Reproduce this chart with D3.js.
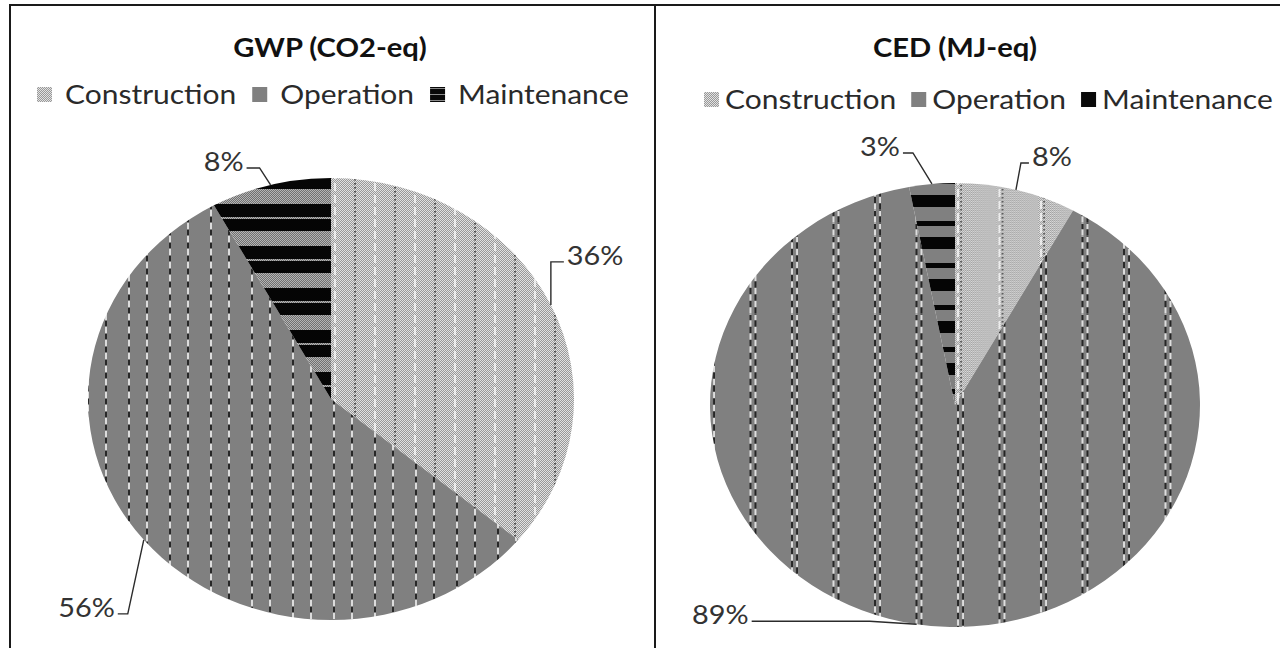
<!DOCTYPE html>
<html>
<head>
<meta charset="utf-8">
<script src="https://cdn.jsdelivr.net/npm/d3@7"></script>
<style>
  html, body { margin: 0; padding: 0; background: #fff; }
  svg { display: block; }
</style>
</head>
<body>
<svg id="chart" width="1280" height="648"></svg>
<script>
// Life-cycle shares (%) per phase
const categories = ["Construction", "Operation", "Maintenance"];
const gwpShares = [36, 56, 8];
const cedShares = [8, 89, 3];
const chartTitles = ["GWP (CO2-eq)", "CED (MJ-eq)"];

const FONT = "Lato, 'Open Sans', sans-serif";
const TEXT_STRETCH = 1.11;   // text is set slightly wide, like the stretched pies
const svg = d3.select("#chart");
const defs = svg.append("defs");

// text helper: places a horizontally stretched string at (x, y)
function wideText(x, y, str, opts) {
  const t = svg.append("text")
    .attr("transform", `translate(${x},${y}) scale(${opts.stretch || TEXT_STRETCH},1)`)
    .attr("text-anchor", opts.anchor || "start")
    .attr("font-family", FONT)
    .attr("font-size", opts.size)
    .attr("font-weight", opts.weight || 400)
    .attr("fill", opts.fill || "#222")
    .text(str);
  return t;
}

// ---------- textures ----------
function checkerPattern(id, light, dark) {
  const p = defs.append("pattern").attr("id", id)
    .attr("patternUnits", "userSpaceOnUse").attr("width", 2).attr("height", 2);
  p.append("rect").attr("width", 2).attr("height", 2).attr("fill", light);
  p.append("rect").attr("x", 1).attr("width", 1).attr("height", 1).attr("fill", dark);
  p.append("rect").attr("y", 1).attr("width", 1).attr("height", 1).attr("fill", dark);
}
checkerPattern("checker", "#e2e2e2", "#999999");
checkerPattern("checkerDark", "#b4b4b4", "#707070");

// pattern drawn in screen pixels even when the pie group is stretched
function tile(id, w, h, sx) {
  return defs.append("pattern").attr("id", id)
    .attr("patternUnits", "userSpaceOnUse")
    .attr("width", w).attr("height", h)
    .attr("patternTransform", `scale(${1 / sx},1)`);
}
function vline(p, x, h, color, dash, offset, width) {
  p.append("line").attr("x1", x).attr("x2", x).attr("y1", 0).attr("y2", h)
    .attr("stroke", color).attr("stroke-width", width || 1.6)
    .attr("stroke-dasharray", dash).attr("stroke-dashoffset", offset || 0);
}

function buildTextures(style, sx) {
  const h = 13;
  if (style === "L") {
    // operation: grey with black/white dashed verticals
    const op = tile("op-L", 41, h, sx);
    op.append("rect").attr("width", 41).attr("height", h).attr("fill", "#808080");
    [3, 21].forEach(x => {
      vline(op, x, h, "#111", "5 8", 0);
      vline(op, x, h, "#f4f4f4", "6 7", -6);
    });
    // construction: dithered light grey with dotted verticals
    const co = tile("co-L", 40, 12, sx);
    co.append("rect").attr("width", 40).attr("height", 12).attr("fill", "url(#checker)");
    vline(co, 4, 12, "#ffffff", "8 4", 0, 1.4);
    vline(co, 24, 12, "#222", "1.5 2.5", 0, 1.4);
    // maintenance: black bands with dithered grey rows
    const mn = tile("mn-L", 40, 42, sx);
    mn.append("rect").attr("width", 40).attr("height", 42).attr("fill", "url(#checkerDark)");
    mn.append("rect").attr("y", 15).attr("width", 40).attr("height", 13).attr("fill", "#050505");
    mn.append("rect").attr("y", 30).attr("width", 40).attr("height", 12).attr("fill", "#050505");
  } else {
    const op = tile("op-R", 41.5, h, sx);
    op.append("rect").attr("width", 41.5).attr("height", h).attr("fill", "#808080");
    [[3, 0], [8, -6.5]].forEach(([x, off]) => {
      vline(op, x, h, "#111", "6 7", off);
      vline(op, x, h, "#f4f4f4", "6 7", off - 6.5);
    });
    const co = tile("co-R", 41.5, 12, sx);
    co.append("rect").attr("width", 41.5).attr("height", 12).attr("fill", "url(#checker)");
    vline(co, 3, 12, "#ffffff", "8 4", 0, 1.4);
    vline(co, 6, 12, "#222", "1.5 2.5", 0, 1.2);
    const mn = tile("mn-R", 41.5, 42, sx);
    mn.append("rect").attr("width", 41.5).attr("height", 42).attr("fill", "#808080");
    mn.append("rect").attr("y", 0).attr("width", 41.5).attr("height", 12).attr("fill", "#050505");
    mn.append("rect").attr("y", 26).attr("width", 41.5).attr("height", 5).attr("fill", "#050505");
  }
}

// small legend swatch texture for striped maintenance key
const keyStripe = defs.append("pattern").attr("id", "key-mn")
  .attr("patternUnits", "userSpaceOnUse").attr("width", 4).attr("height", 6);
keyStripe.append("rect").attr("width", 4).attr("height", 6).attr("fill", "#080808");
keyStripe.append("rect").attr("y", 4).attr("width", 4).attr("height", 1).attr("fill", "#8a8a8a");

// ---------- panels ----------
const panels = [
  {
    shares: gwpShares, title: chartTitles[0], style: "L",
    frame: [10, 5, 645, 700], cx: 331, cy: 399, rx: 243, ry: 221,
    titleX: 330, titleY: 57, legendX: 37, legendY: 95, keyGap: 28, itemGap: 16,
    keyFills: ["url(#checker)", "#808080", "url(#key-mn)"],
    leaders: [
      { elbow: [0, -43], run: 13 },
      { elbow: [-16, 74], run: -10 },
      { elbow: [-11, -17], run: -13 }
    ]
  },
  {
    shares: cedShares, title: chartTitles[1], style: "R",
    frame: [655, 5, 700, 700], cx: 955, cy: 405, rx: 245, ry: 222,
    titleX: 955, titleY: 57, legendX: 704, legendY: 100, keyGap: 21, itemGap: 15,
    keyFills: ["url(#checker)", "#808080", "#0a0a0a"],
    leaders: [
      { elbow: [5, -27], run: 8 },
      { elbow: [-47, -3], run: -118 },
      { elbow: [-19, -31], run: -10 }
    ]
  }
];

const pie = d3.pie().sort(null).value(d => d);

panels.forEach(P => {
  const sx = P.rx / P.ry;
  buildTextures(P.style, sx);
  const fills = [`url(#co-${P.style})`, `url(#op-${P.style})`, `url(#mn-${P.style})`];

  // frame
  svg.append("rect")
    .attr("x", P.frame[0]).attr("y", P.frame[1])
    .attr("width", P.frame[2]).attr("height", P.frame[3])
    .attr("fill", "none").attr("stroke", "#1a1a1a").attr("stroke-width", 2);

  // title
  wideText(P.titleX, P.titleY, P.title, { size: 27, weight: 700, anchor: "middle", fill: "#111", stretch: 1.08 });

  // legend
  let lx = P.legendX;
  categories.forEach((c, i) => {
    svg.append("rect")
      .attr("x", lx).attr("y", P.legendY - 8).attr("width", 15).attr("height", 15)
      .attr("fill", P.keyFills[i]);
    const t = wideText(lx + P.keyGap, P.legendY + 9, c, { size: 27, fill: "#2a2a2a" });
    lx += P.keyGap + t.node().getComputedTextLength() * TEXT_STRETCH + P.itemGap;
  });

  // pie
  const arcs = pie(P.shares);
  const arc = d3.arc().innerRadius(0).outerRadius(P.ry);
  const g = svg.append("g").attr("transform", `translate(${P.cx},${P.cy}) scale(${sx},1)`);
  g.selectAll("path").data(arcs).join("path")
    .attr("d", arc)
    .attr("fill", (d, i) => fills[i]);

  // value labels with leader lines
  arcs.forEach((a, i) => {
    const mid = (a.startAngle + a.endAngle) / 2;
    const ax = P.cx + P.rx * Math.sin(mid);
    const ay = P.cy - P.ry * Math.cos(mid);
    const L = P.leaders[i];
    const ex = ax + L.elbow[0], ey = ay + L.elbow[1];
    const hx = ex + L.run;
    svg.append("path")
      .attr("d", d3.line()([[ax, ay], [ex, ey], [hx, ey]]))
      .attr("fill", "none").attr("stroke", "#2b2b2b").attr("stroke-width", 1.4);
    const dir = Math.sign(L.run);
    wideText(hx + dir * 3, ey + 3, P.shares[i] + "%",
      { size: 26, anchor: dir > 0 ? "start" : "end", fill: "#333" });
  });
});
</script>
</body>
</html>
